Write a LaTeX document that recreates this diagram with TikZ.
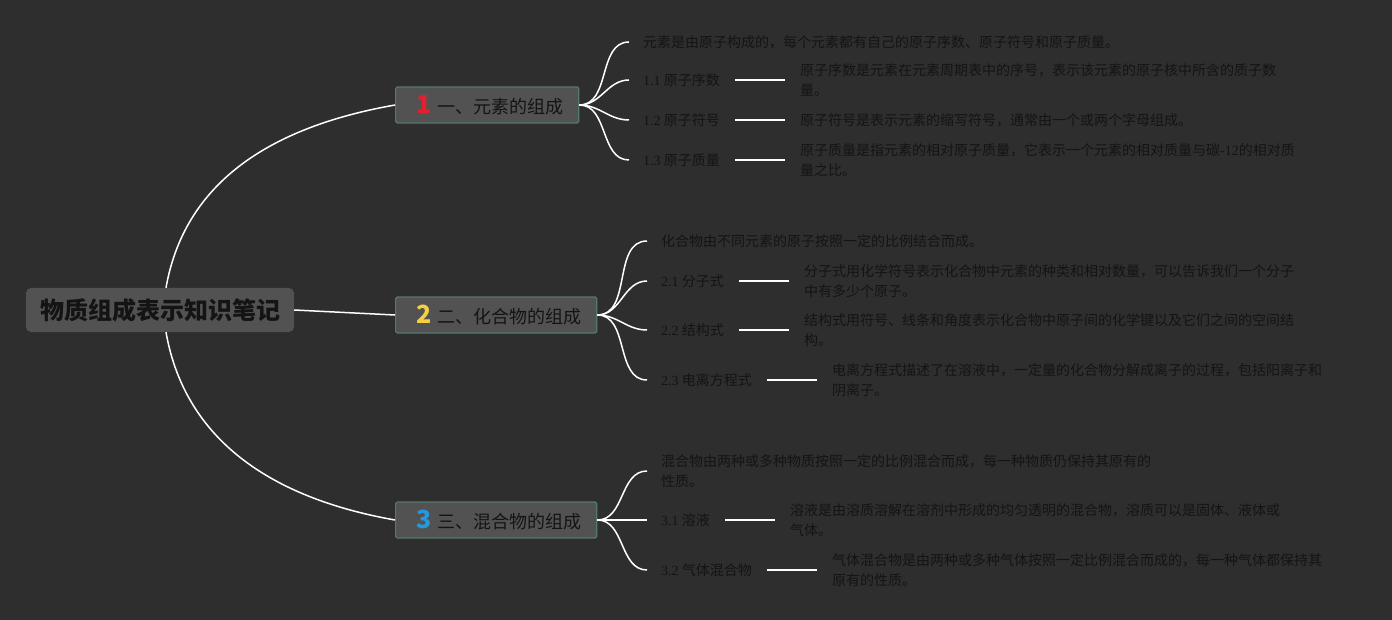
\documentclass[tikz,border=0pt]{standalone}
\usepackage{fontspec}
\setmainfont{Noto Sans CJK SC}
\newfontfamily\numfont{Liberation Serif}
\usetikzlibrary{positioning}

\definecolor{bgdark}{HTML}{2E2E2E}
\definecolor{boxgray}{HTML}{525252}
\definecolor{boxedge}{HTML}{537A6C}
\definecolor{inkdark}{HTML}{141414}
\definecolor{numred}{HTML}{E3202C}
\definecolor{numyellow}{HTML}{F5D142}
\definecolor{numblue}{HTML}{2399E0}

\newcommand{\bnum}[2]{\hspace{6pt}{\color{#1}\fontsize{25}{25}\selectfont\bfseries #2}\hspace{6pt}}

\tikzset{
  rootbox/.style={fill=boxgray, rounded corners=5pt, minimum width=268pt, minimum height=44pt,
    text=inkdark, font=\fontsize{24}{26}\selectfont\bfseries},
  branchbox/.style={fill=boxgray, draw=boxedge, line width=1.2pt, rounded corners=1.5pt,
    minimum height=36pt, inner xsep=15pt, anchor=west, text=inkdark, font=\fontsize{18}{20}\selectfont},
  leaf/.style={anchor=west, inner sep=0pt, text=inkdark, font=\fontsize{14}{20}\selectfont},
  note/.style={inner sep=0pt, align=left, text=inkdark, font=\fontsize{14}{20}\selectfont},
  fan/.style={white, line width=1.5pt},
  link/.style={white, line width=1.5pt},
}

\begin{document}
\begin{tikzpicture}[x=1pt, y=1pt, node distance=80pt]
  \fill[bgdark] (0,0) rectangle (1392,-620);

  % root and main branches
  \node[rootbox] (root) at (160,-310) {物质组成表示知识笔记};
  \node[branchbox] (b1) at (395,-105) {\bnum{numred}{1}一、元素的组成};
  \node[branchbox] (b2) at (395,-315) {\bnum{numyellow}{2}二、化合物的组成};
  \node[branchbox] (b3) at (395,-520) {\bnum{numblue}{3}三、混合物的组成};

  \draw[fan] ([xshift=6pt]root.north) to[out=80, in=190] (b1.west);
  \draw[fan] (root.east) -- (b2.west);
  \draw[fan] ([xshift=6pt]root.south) to[out=-80, in=170] (b3.west);

  % branch 1
  \node[leaf] (s1) at (643,-42) {元素是由原子构成的，每个元素都有自己的原子序数、原子符号和原子质量。};
  \node[leaf] (c11) at (643,-80) {{\numfont 1.1} 原子序数};
  \node[leaf] (c12) at (643,-120) {{\numfont 1.2} 原子符号};
  \node[leaf] (c13) at (643,-160) {{\numfont 1.3} 原子质量};
  \node[note, right=of c11] (d11) {原子序数是元素在元素周期表中的序号，表示该元素的原子核中所含的质子数\\量。};
  \node[note, right=of c12] (d12) {原子符号是表示元素的缩写符号，通常由一个或两个字母组成。};
  \node[note, right=of c13] (d13) {原子质量是指元素的相对原子质量，它表示一个元素的相对质量与碳{\numfont -12}的相对质\\量之比。};

  % branch 2
  \node[leaf] (s2) at (661,-241) {化合物由不同元素的原子按照一定的比例结合而成。};
  \node[leaf] (c21) at (661,-281) {{\numfont 2.1} 分子式};
  \node[leaf] (c22) at (661,-330) {{\numfont 2.2} 结构式};
  \node[leaf] (c23) at (661,-380) {{\numfont 2.3} 电离方程式};
  \node[note, right=of c21] (d21) {分子式用化学符号表示化合物中元素的种类和相对数量，可以告诉我们一个分子\\中有多少个原子。};
  \node[note, right=of c22] (d22) {结构式用符号、线条和角度表示化合物中原子间的化学键以及它们之间的空间结\\构。};
  \node[note, right=of c23] (d23) {电离方程式描述了在溶液中，一定量的化合物分解成离子的过程，包括阳离子和\\阴离子。};

  % branch 3
  \node[leaf, align=left] (s3) at (661,-471) {混合物由两种或多种物质按照一定的比例混合而成，每一种物质仍保持其原有的\\性质。};
  \node[leaf] (c31) at (661,-520) {{\numfont 3.1} 溶液};
  \node[leaf] (c32) at (661,-570) {{\numfont 3.2} 气体混合物};
  \node[note, right=of c31] (d31) {溶液是由溶质溶解在溶剂中形成的均匀透明的混合物，溶质可以是固体、液体或\\气体。};
  \node[note, right=of c32] (d32) {气体混合物是由两种或多种气体按照一定比例混合而成的，每一种气体都保持其\\原有的性质。};

  % fans
  \foreach \b/\kids in {b1/{s1,c11,c12,c13}, b2/{s2,c21,c22,c23}, b3/{s3,c31,c32}} {
    \foreach \k in \kids {
      \draw[fan] (\b.east) to[out=0, in=180] ([xshift=-14pt]\k.west);
    }
  }

  % label to note
  \foreach \c/\d in {c11/d11, c12/d12, c13/d13, c21/d21, c22/d22, c23/d23, c31/d31, c32/d32} {
    \draw[link] ([xshift=15pt]\c.east) -- ([xshift=-15pt]\d.west);
  }
\end{tikzpicture}
\end{document}
